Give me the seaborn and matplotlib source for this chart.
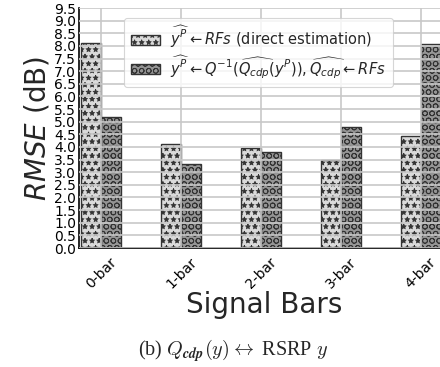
import numpy as np
import pandas as pd
import matplotlib
matplotlib.use("Agg")
import matplotlib.pyplot as plt
import seaborn as sns

categories = ["0-bar", "1-bar", "2-bar", "3-bar", "4-bar"]
direct_rmse = [8.13, 4.10, 3.95, 3.48, 4.43]
cdp_rmse = [5.20, 3.33, 3.79, 4.78, 8.07]
series_labels = [
    r"$\widehat{y^P} \leftarrow RFs$ (direct estimation)",
    r"$\widehat{y^P} \leftarrow Q^{-1}(\widehat{Q_{cdp}}(y^P)), \widehat{Q_{cdp}} \leftarrow RFs$",
]
yticks = np.arange(0, 9.51, 0.5)

df = pd.DataFrame({
    "bars": categories * 2,
    "rmse": direct_rmse + cdp_rmse,
    "method": [series_labels[0]] * 5 + [series_labels[1]] * 5,
})

DPI = 85
k = 100 / DPI  # keep pixel sizes equal to a 100-dpi layout

sns.set_style("whitegrid")
plt.rcParams["font.family"] = ["DejaVu Sans"]
plt.rcParams["hatch.linewidth"] = 0.6 * k

fig = plt.figure(figsize=(440 / DPI, 367 / DPI), dpi=DPI)
ax = fig.add_axes([79 / 440, 1 - 248 / 367, 1.02 - 79 / 440, 240 / 367])

sns.barplot(data=df, x="bars", y="rmse", hue="method", ax=ax,
            palette=["#dadada", "#959595"], width=0.5, gap=0,
            edgecolor="#333333", linewidth=1.0 * k, legend=False)

hatches = ["**", "OO"]
for cont, h in zip(ax.containers, hatches):
    for p in cont:
        p.set_hatch(h)

ax.set_xlim(-0.28, 4.35)
ax.set_ylim(0, 9.5)
ax.set_yticks(yticks)
ax.set_yticklabels([f"{v:.1f}" for v in yticks], fontsize=10 * k)
ax.set_xticks(range(len(categories)))
ax.set_xticklabels(categories, rotation=45, fontsize=10 * k)
ax.tick_params(axis="y", length=0, pad=2 * k, colors="black")
ax.tick_params(axis="x", length=3 * k, width=1 * k, pad=2 * k, colors="black")
ax.set_axisbelow(False)
ax.grid(True, color="#c8c8c8", linewidth=1.2 * k)

for s in ["top", "right"]:
    ax.spines[s].set_visible(False)
for s in ["left", "bottom"]:
    ax.spines[s].set_color("black")
    ax.spines[s].set_linewidth(1.2 * k)

ax.set_ylabel(r"$RMSE$ (dB)", fontsize=20 * k, labelpad=2 * k)
ax.set_xlabel("Signal Bars", fontsize=20 * k, labelpad=0)

leg = ax.legend(ax.containers, series_labels, loc="upper left",
                bbox_to_anchor=(0.103, 0.99), fontsize=10.5 * k, frameon=True,
                handlelength=2.0, borderpad=0.45, labelspacing=0.2,
                handletextpad=0.7)
leg.get_frame().set_linewidth(0.8 * k)

fig.text(0.53, 0.045, r"(b) $Q_{\boldsymbol{cdp}}(y) \leftrightarrow$ RSRP $y$",
         ha="center", va="center", fontsize=14.5 * k, family="Liberation Serif",
         math_fontfamily="cm")

fig.savefig("out.png", dpi=DPI)
